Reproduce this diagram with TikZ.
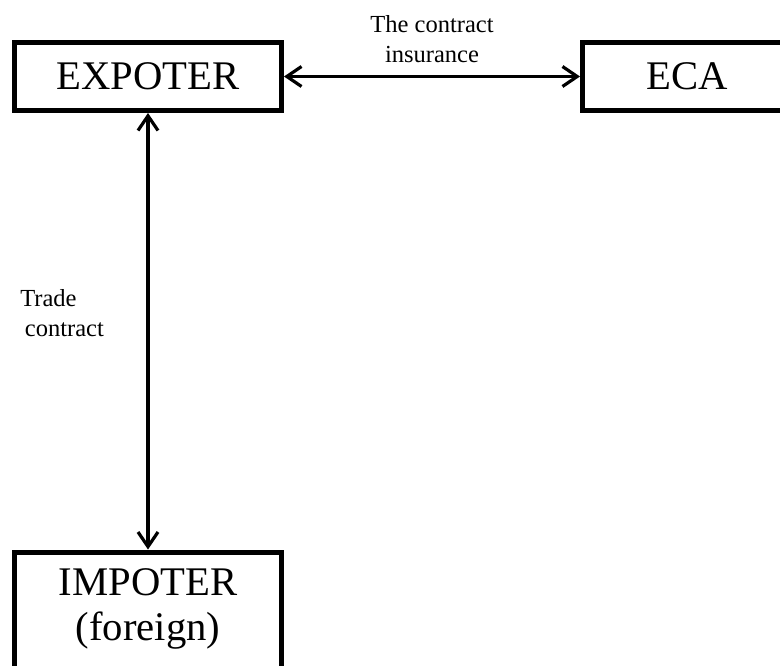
\documentclass[tikz,border=0pt]{standalone}
\usepackage{fontspec}
\setmainfont{Liberation Serif}
\usetikzlibrary{arrows.meta}

\tikzset{
  party/.style={draw=black, line width=3.75pt, fill=white, inner sep=0pt,
    font=\fontsize{30.5pt}{35pt}\selectfont},
  link/.style={line width=2.4pt, {Straight Barb[length=11pt,width=15pt]}-{Straight Barb[length=11pt,width=15pt]}},
  note/.style={inner sep=0pt, font=\fontsize{18.4pt}{23pt}\selectfont}
}

\begin{document}
\begin{tikzpicture}[x=0.75pt, y=-0.75pt]
  \useasboundingbox (0,0) rectangle (780,666);

  % parties
  \node[party, minimum width=267*0.75pt, minimum height=68*0.75pt] (exp) at (148,76.5) {EXPOTER};
  \node[party, minimum width=209*0.75pt, minimum height=68*0.75pt] (eca) at (687,76.5) {ECA};
  \node[party, anchor=north, minimum width=267*0.75pt, minimum height=150*0.75pt] (imp) at (148,549.5) {};
  \node[font=\fontsize{30.5pt}{33.75pt}\selectfont, align=center, inner sep=0pt, anchor=base]
    (imptext) at (148,640) {IMPOTER\\(foreign)};

  % contracts
  \draw[link] (exp.east) -- (eca.west);
  \draw[link] (exp.south) -- (imp.north);

  % labels
  \node[note, align=center, anchor=north] (inslabel) at (432,15)
    {\baselineskip=23.25pt The contract\\insurance};
  \node[note, align=left, anchor=north west] (tradelabel) at (20,289)
    {\baselineskip=22.5pt Trade\\\hspace*{3.5pt}contract};
\end{tikzpicture}
\end{document}
